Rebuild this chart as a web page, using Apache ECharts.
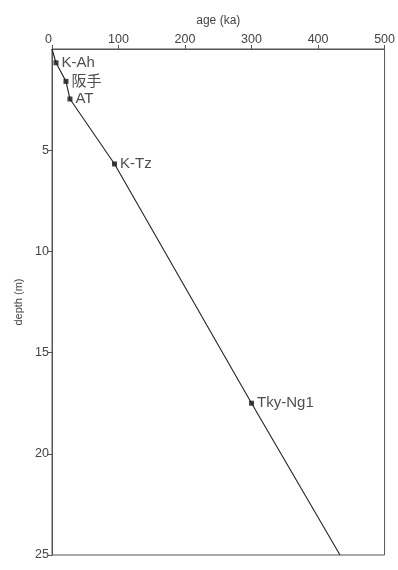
<!DOCTYPE html>
<html>
<head>
<meta charset="utf-8">
<script src="https://cdn.jsdelivr.net/npm/echarts@6/dist/echarts.min.js"></script>
<style>
  html, body { margin: 0; padding: 0; background: #fff; }
  #chart { width: 398px; height: 570px; }
</style>
</head>
<body>
<div id="chart"></div>
<script>
// tephra markers
var tephraNames = ['K-Ah', '阪手', 'AT', 'K-Tz', 'Tky-Ng1'];
var tephraAge = [6, 21, 27, 94, 300];      // ka
var tephraDepth = [0.68, 1.6, 2.47, 5.68, 17.5]; // m

// age-depth line
var lineAge = [0, 6, 21, 27, 94, 300, 433];
var lineDepth = [0, 0.68, 1.6, 2.47, 5.68, 17.5, 25];

var ageTicks = [0, 100, 200, 300, 400, 500];
var depthTicks = [0, 5, 10, 15, 20, 25];

var chart = echarts.init(document.getElementById('chart'));

var linePts = [];
for (var i = 0; i < lineAge.length; i++) {
    linePts.push([lineAge[i], lineDepth[i]]);
}
var markPts = [];
for (var j = 0; j < tephraNames.length; j++) {
    markPts.push({ name: tephraNames[j], value: [tephraAge[j], tephraDepth[j]] });
}

var axisColor = '#555';
var option = {
    animation: false,
    backgroundColor: '#fff',
    textStyle: { fontFamily: 'Liberation Sans, Arial, "Noto Sans CJK JP", sans-serif' },
    grid: {
        left: 52, top: 49, right: 11, bottom: 15,
        show: true, borderColor: axisColor, borderWidth: 1
    },
    xAxis: {
        type: 'value',
        position: 'top',
        min: ageTicks[0],
        max: ageTicks[ageTicks.length - 1],
        interval: 100,
        name: 'age (ka)',
        nameLocation: 'middle',
        nameGap: 22,
        nameTextStyle: { color: '#444', fontSize: 12 },
        axisLine: { show: true, lineStyle: { color: axisColor } },
        axisTick: { show: true, inside: false, length: 4, lineStyle: { color: axisColor } },
        axisLabel: { color: '#444', fontSize: 12.5, margin: 3, alignMinLabel: 'right' },
        splitLine: { show: false }
    },
    yAxis: {
        type: 'value',
        inverse: true,
        min: depthTicks[0],
        max: depthTicks[depthTicks.length - 1],
        interval: 5,
        name: 'depth (m)',
        nameLocation: 'middle',
        nameRotate: 90,
        nameGap: 28,
        nameTextStyle: { color: '#444', fontSize: 11 },
        axisLine: { show: true, lineStyle: { color: axisColor } },
        axisTick: { show: true, inside: false, length: 4, lineStyle: { color: axisColor } },
        axisLabel: { color: '#444', fontSize: 12.5, margin: 3, showMinLabel: false },
        splitLine: { show: false }
    },
    series: [
        {
            type: 'line',
            data: linePts,
            showSymbol: false,
            lineStyle: { color: '#222', width: 1.1 },
            silent: true
        },
        {
            type: 'scatter',
            data: markPts,
            symbol: 'rect',
            symbolSize: 5,
            itemStyle: { color: '#111' },
            label: {
                show: true,
                position: 'right',
                distance: 3,
                formatter: '{b}',
                color: '#222',
                fontSize: 15
            }
        }
    ]
};
chart.setOption(option);
</script>
</body>
</html>
